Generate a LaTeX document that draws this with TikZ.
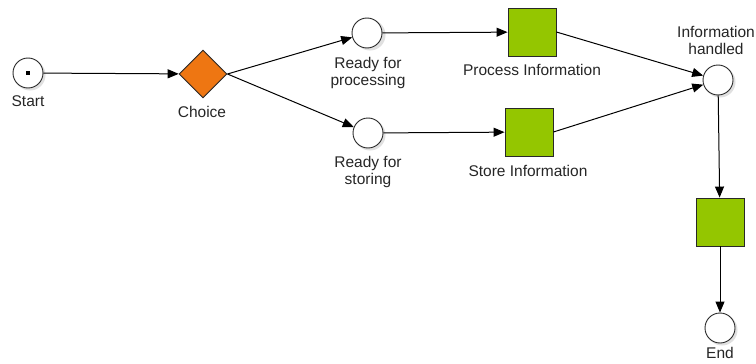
\documentclass[tikz,border=0pt]{standalone}
\usepackage{fontspec}
\setmainfont{Liberation Sans}
\usetikzlibrary{shapes.geometric,arrows.meta}
\definecolor{placeedge}{RGB}{40,40,40}
\definecolor{choicefill}{RGB}{238,118,18}
\definecolor{taskfill}{RGB}{148,198,0}
\tikzset{
  place/.style={circle,draw=placeedge,fill=white,line width=0.9pt,minimum size=30pt,inner sep=0pt},
  placeshadow/.style={circle,fill=black!12,minimum size=31pt,inner sep=0pt},
  task/.style={rectangle,draw=placeedge,fill=taskfill,line width=0.9pt,minimum size=48pt,inner sep=0pt},
  choicebox/.style={diamond,draw=placeedge,fill=choicefill,line width=0.9pt,minimum width=48pt,minimum height=48pt,inner sep=0pt},
  lbl/.style={font=\fontsize{15.5}{17}\selectfont,text=black!85,align=center,inner sep=0pt},
  flow/.style={draw=black,line width=1pt,-{Triangle[length=11pt,width=9pt]}}
}
\begin{document}
\begin{tikzpicture}[x=1pt,y=-1pt]
\useasboundingbox (0,0) rectangle (756,364);
\fill[white] (0,0) rectangle (756,364);

% soft shadows behind the places
\foreach \p in {(30,75),(370,35),(370,135),(720,82),(722,330)}
  \node[placeshadow] at \p {};

% places
\node[place] (start) at (28,73) {};
\fill[black] (26,71) rectangle (30,75);
\node[place] (rfp) at (367,33) {};
\node[place] (rfs) at (368,133) {};
\node[place] (ih) at (718,80) {};
\node[place] (end) at (720,328) {};

% choice and tasks
\node[choicebox] (choice) at (203,74) {};
\node[task] (proc) at (532,32) {};
\node[task] (store) at (529,132) {};
\node[task] (final) at (720,222) {};

% labels
\node[lbl] (lstart) at (28,101) {Start};
\node[lbl] (lchoice) at (202,112) {Choice};
\node[lbl] (lrfp) at (368,73) {Ready for\\processing};
\node[lbl] (lproc) at (532,70) {Process Information};
\node[lbl] (lrfs) at (368,172) {Ready for\\storing};
\node[lbl] (lstore) at (528,171) {Store Information};
\node[lbl] (lih) at (716,40) {Information\\handled};
\node[lbl] (lend) at (720,353) {End};

% flows
\draw[flow] (start) -- (choice);
\draw[flow] (choice.east) -- (rfp);
\draw[flow] (choice.east) -- (rfs);
\draw[flow] (rfp) -- (proc);
\draw[flow] (rfs) -- (store);
\draw[flow] (proc.east) -- (ih);
\draw[flow] (store.east) -- (ih);
\draw[flow] (ih) -- (final);
\draw[flow] (final) -- (end);
\end{tikzpicture}
\end{document}
